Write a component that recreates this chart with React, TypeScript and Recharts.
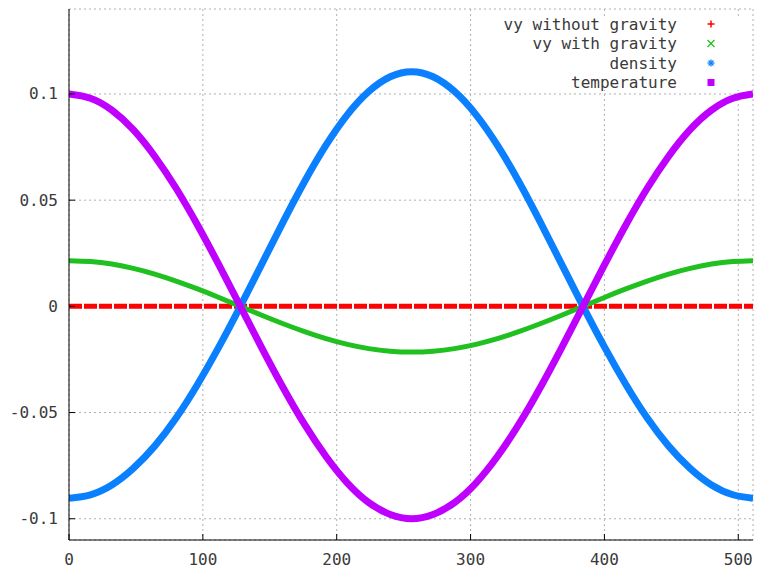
import React from 'react';
import { LineChart, Line, XAxis, YAxis, CartesianGrid, Legend } from 'recharts';

const xValues = [0, 16, 32, 48, 64, 80, 96, 112, 128, 144, 160, 176, 192, 208, 224, 240, 256, 272, 288, 304, 320, 336, 352, 368, 384, 400, 416, 432, 448, 464, 480, 496, 511];

const vyWithoutGravity = [0, 0, 0, 0, 0, 0, 0, 0, 0, 0, 0, 0, 0, 0, 0, 0, 0, 0, 0, 0, 0, 0, 0, 0, 0, 0, 0, 0, 0, 0, 0, 0, 0];

const vyWithGravity = [0.0215, 0.0211, 0.0199, 0.0179, 0.0152, 0.0119, 0.0082, 0.0042, 0, -0.0042, -0.0082, -0.0119, -0.0152, -0.0179, -0.0199, -0.0211, -0.0215, -0.0211, -0.0199, -0.0179, -0.0152, -0.0119, -0.0082, -0.0042, 0, 0.0042, 0.0082, 0.0119, 0.0152, 0.0179, 0.0199, 0.0211, 0.0215];

const density = [-0.0903, -0.0887, -0.0841, -0.0763, -0.0658, -0.0526, -0.0368, -0.0191, 0, 0.0199, 0.0398, 0.0588, 0.0759, 0.0903, 0.1012, 0.1081, 0.1105, 0.1081, 0.1012, 0.0903, 0.0759, 0.0588, 0.0398, 0.0199, 0, -0.0191, -0.0368, -0.0526, -0.0658, -0.0763, -0.0841, -0.0887, -0.0903];

const temperature = [0.1, 0.098, 0.0924, 0.0832, 0.0707, 0.0556, 0.0383, 0.0195, 0, -0.0195, -0.0383, -0.0556, -0.0707, -0.0832, -0.0924, -0.098, -0.1, -0.098, -0.0924, -0.0832, -0.0707, -0.0556, -0.0383, -0.0195, 0, 0.0195, 0.0383, 0.0556, 0.0707, 0.0832, 0.0924, 0.098, 0.1];

const xTicks = [0, 100, 200, 300, 400, 500];
const yTicks = [-0.1, -0.05, 0, 0.05, 0.1];

const seriesNames = ['vy without gravity', 'vy with gravity', 'density', 'temperature'];
const seriesKeys = ['vyWithoutGravity', 'vyWithGravity', 'density', 'temperature'];
const seriesColors = ['#ff0000', '#1fc01f', '#0a80ff', '#c000ff'];

const data = xValues.map((x, i) => ({
  x,
  vyWithoutGravity: vyWithoutGravity[i],
  vyWithGravity: vyWithGravity[i],
  density: density[i],
  temperature: temperature[i],
}));

const FONT = '"DejaVu Sans Mono", "Liberation Mono", monospace';
const TEXT_COLOR = '#3a3a3a';

const BottomTick = (props: any) => {
  const { x, y, payload } = props;
  return (
    <g>
      <line x1={x} y1={y} x2={x} y2={y - 6} stroke="#000" strokeWidth={1} />
      <text x={x} y={y + 19} textAnchor="middle" dominantBaseline="central" fontFamily={FONT} fontSize={16} fill={TEXT_COLOR}>
        {String(payload.value)}
      </text>
    </g>
  );
};

const TopTick = (props: any) => {
  const { x, y } = props;
  return <line x1={x} y1={y} x2={x} y2={y + 6} stroke="#000" strokeWidth={1} />;
};

const LeftTick = (props: any) => {
  const { x, y, payload } = props;
  return (
    <g>
      <line x1={x} y1={y} x2={x + 6} y2={y} stroke="#000" strokeWidth={1} />
      <text x={x - 11} y={y} textAnchor="end" dominantBaseline="central" fontFamily={FONT} fontSize={16} fill={TEXT_COLOR}>
        {String(payload.value)}
      </text>
    </g>
  );
};

const RightTick = (props: any) => {
  const { x, y } = props;
  return <line x1={x} y1={y} x2={x - 6} y2={y} stroke="#000" strokeWidth={1} />;
};

const Marker = ({ kind, cx, cy, color }: { kind: number; cx: number; cy: number; color: string }) => {
  const s = 3.5;
  if (kind === 0) {
    return (
      <g stroke={color} strokeWidth={1.5}>
        <line x1={cx - s} y1={cy} x2={cx + s} y2={cy} />
        <line x1={cx} y1={cy - s} x2={cx} y2={cy + s} />
      </g>
    );
  }
  if (kind === 1) {
    return (
      <g stroke={color} strokeWidth={1.2}>
        <line x1={cx - s} y1={cy - s} x2={cx + s} y2={cy + s} />
        <line x1={cx - s} y1={cy + s} x2={cx + s} y2={cy - s} />
      </g>
    );
  }
  if (kind === 2) {
    return (
      <g stroke={color} strokeWidth={1.3}>
        <line x1={cx - s} y1={cy} x2={cx + s} y2={cy} />
        <line x1={cx} y1={cy - s} x2={cx} y2={cy + s} />
        <line x1={cx - 2.5} y1={cy - 2.5} x2={cx + 2.5} y2={cy + 2.5} />
        <line x1={cx - 2.5} y1={cy + 2.5} x2={cx + 2.5} y2={cy - 2.5} />
      </g>
    );
  }
  return <rect x={cx - 3.5} y={cy - 3.5} width={7} height={7} fill={color} />;
};

const LegendContent = () => (
  <svg width={757} height={100} style={{ display: 'block' }}>
    <rect x={486} y={16} width={265} height={74} fill="#fff" />
    {seriesNames.map((name, i) => {
      const cy = 24 + i * 19.5;
      return (
        <g key={name}>
          <text x={677} y={cy} textAnchor="end" dominantBaseline="central" fontFamily={FONT} fontSize={16} fill={TEXT_COLOR}>
            {name}
          </text>
          <Marker kind={i} cx={711} cy={cy} color={seriesColors[i]} />
        </g>
      );
    })}
  </svg>
);

export default function App() {
  return (
    <div style={{ position: 'absolute', left: 0, top: 0, width: 757, height: 568, background: '#fff' }}>
      <LineChart width={757} height={568} data={data} margin={{ top: 9, right: 4, bottom: 0, left: 0 }}>
        <CartesianGrid stroke="#b0b0b0" strokeDasharray="2 3" />
        <XAxis
          dataKey="x"
          type="number"
          domain={[0, 511]}
          ticks={xTicks}
          allowDataOverflow
          height={28}
          tickSize={0}
          tickMargin={0}
          tickLine={false}
          axisLine={{ stroke: '#000' }}
          tick={<BottomTick />}
          interval={0}
        />
        <XAxis
          xAxisId="t"
          orientation="top"
          dataKey="x"
          type="number"
          domain={[0, 511]}
          ticks={xTicks}
          allowDataOverflow
          height={0}
          tickSize={0}
          tickMargin={0}
          tickLine={false}
          axisLine={{ stroke: '#000' }}
          tick={<TopTick />}
          interval={0}
        />
        <YAxis
          type="number"
          domain={[-0.11, 0.14]}
          ticks={yTicks}
          allowDataOverflow
          width={69}
          tickSize={0}
          tickMargin={0}
          tickLine={false}
          axisLine={{ stroke: '#000' }}
          tick={<LeftTick />}
          interval={0}
        />
        <YAxis
          yAxisId="r"
          orientation="right"
          type="number"
          domain={[-0.11, 0.14]}
          ticks={yTicks}
          allowDataOverflow
          width={0}
          tickSize={0}
          tickMargin={0}
          tickLine={false}
          axisLine={{ stroke: '#000' }}
          tick={<RightTick />}
          interval={0}
        />
        <Line dataKey="vyWithoutGravity" name={seriesNames[0]} stroke={seriesColors[0]} strokeWidth={5} strokeDasharray="13 2" dot={false} type="linear" isAnimationActive={false} />
        <Line dataKey="vyWithGravity" name={seriesNames[1]} stroke={seriesColors[1]} strokeWidth={5} dot={false} type="natural" isAnimationActive={false} />
        <Line dataKey="density" name={seriesNames[2]} stroke={seriesColors[2]} strokeWidth={7} dot={false} type="natural" isAnimationActive={false} />
        <Line dataKey="temperature" name={seriesNames[3]} stroke={seriesColors[3]} strokeWidth={7} dot={false} type="natural" isAnimationActive={false} />
        <Legend
          layout="horizontal"
          verticalAlign="middle"
          align="center"
          wrapperStyle={{ left: 0, top: 0, width: 757, height: 100, pointerEvents: 'none' }}
          content={<LegendContent />}
        />
      </LineChart>
    </div>
  );
}
